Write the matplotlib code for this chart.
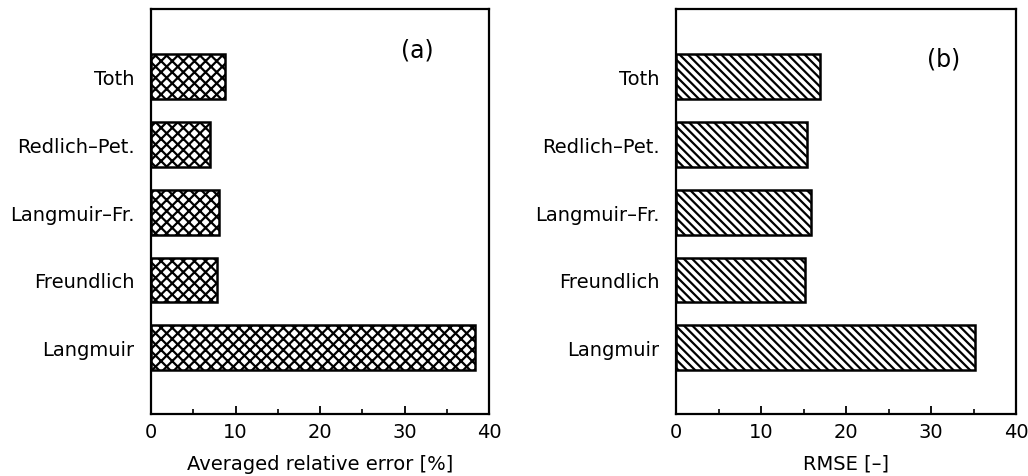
import matplotlib.pyplot as plt
from matplotlib.ticker import MultipleLocator

# DATA
models = ["Langmuir", "Freundlich", "Langmuir\u2013Fr.", "Redlich\u2013Pet.", "Toth"]
rel_error = [38.3, 7.8, 8.0, 7.0, 8.8]
rmse = [35.2, 15.2, 15.9, 15.4, 16.9]

plt.rcParams['font.family'] = ['DejaVu Sans']
plt.rcParams['hatch.linewidth'] = 1.6

fig = plt.figure(figsize=(10.28, 4.77), dpi=100)
ax1 = fig.add_axes([151/1028, 1 - 415/477, 338/1028, 405/477])
ax2 = fig.add_axes([676/1028, 1 - 415/477, 340/1028, 405/477])

def draw_panel(ax, values, hatch, xlabel, tag, tag_pos):
    pos = list(range(len(models)))
    ax.barh(pos, values, height=0.66, color='white', edgecolor='black',
            linewidth=1.8, hatch=hatch)
    ax.set_xlim(0, 40)
    ax.set_ylim(-0.98, 5.0)
    ax.set_yticks(pos)
    ax.set_yticklabels(models, fontsize=14)
    ax.tick_params(axis='y', length=0, pad=12)
    ax.xaxis.set_major_locator(MultipleLocator(10))
    ax.xaxis.set_minor_locator(MultipleLocator(5))
    ax.tick_params(axis='x', which='major', direction='in', length=6, width=1.3,
                   labelsize=14, pad=6)
    ax.tick_params(axis='x', which='minor', direction='in', length=3.5, width=1.2)
    ax.set_xlabel(xlabel, fontsize=14, labelpad=9)
    for s in ax.spines.values():
        s.set_linewidth(1.6)
    ax.text(tag_pos[0], tag_pos[1], tag, transform=ax.transAxes, fontsize=17,
            ha='center', va='center')

draw_panel(ax1, rel_error, 'xxx', 'Averaged relative error [%]', '(a)', (0.787, 0.90))
draw_panel(ax2, rmse, '\\\\\\\\', 'RMSE [\u2013]', '(b)', (0.788, 0.877))

fig.savefig('out.png', dpi=100)
